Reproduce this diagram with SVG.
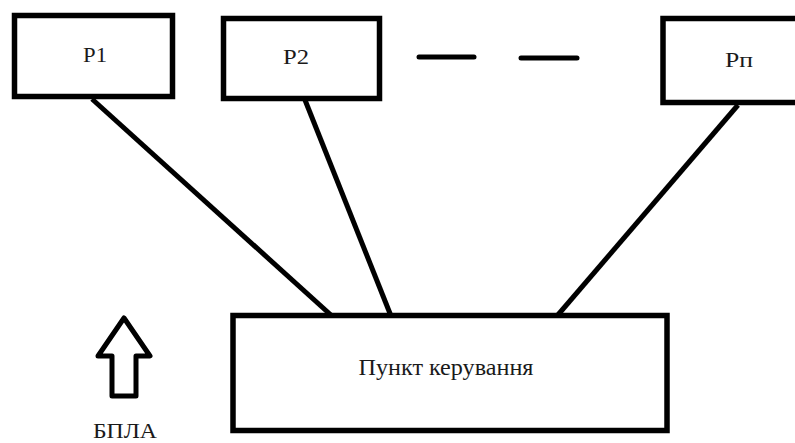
<svg xmlns="http://www.w3.org/2000/svg" width="795" height="443" viewBox="0 0 795 443">
<style>
.box{fill:#fff;stroke:#000;stroke-width:5.5}
.ln{stroke:#000;stroke-width:5;fill:none}
.dash{stroke:#000;stroke-width:5;stroke-linecap:round}
.t{font-family:"Liberation Serif","Times New Roman","DejaVu Serif","Noto Serif",serif;fill:#1a1a1a;text-anchor:middle}
</style>
<rect width="795" height="443" fill="#fff"/>
<g id="connectors">
<line class="ln" x1="92" y1="99" x2="332" y2="316"/>
<line class="ln" x1="305" y1="100" x2="391" y2="316"/>
<line class="ln" x1="738" y1="105" x2="557" y2="316"/>
</g>
<g id="p1">
<rect class="box" x="14.5" y="15.5" width="158" height="81"/>
<text class="t" x="95" y="62" font-size="22" textLength="24" lengthAdjust="spacingAndGlyphs">Р1</text>
</g>
<g id="p2">
<rect class="box" x="223.5" y="18.5" width="156" height="80"/>
<text class="t" x="296" y="64" font-size="22" textLength="26" lengthAdjust="spacingAndGlyphs">Р2</text>
</g>
<g id="dots">
<line class="dash" x1="419" y1="57" x2="474" y2="57"/>
<line class="dash" x1="521" y1="58" x2="577" y2="58"/>
</g>
<g id="pn">
<rect class="box" x="663" y="18.5" width="140" height="84"/>
<text class="t" x="739" y="67" font-size="22" textLength="28" lengthAdjust="spacingAndGlyphs">Рп</text>
</g>
<g id="control">
<rect class="box" x="233" y="315.5" width="434" height="115"/>
<text class="t" x="446" y="375" font-size="24" textLength="175" lengthAdjust="spacingAndGlyphs">Пункт керування</text>
</g>
<g id="uav">
<polygon class="ln" stroke-linejoin="round" points="124,318 150,356 136,356 136,396 112,396 112,356 98,356"/>
<text class="t" x="125" y="438" font-size="22" textLength="64" lengthAdjust="spacingAndGlyphs">БПЛА</text>
</g>
</svg>
